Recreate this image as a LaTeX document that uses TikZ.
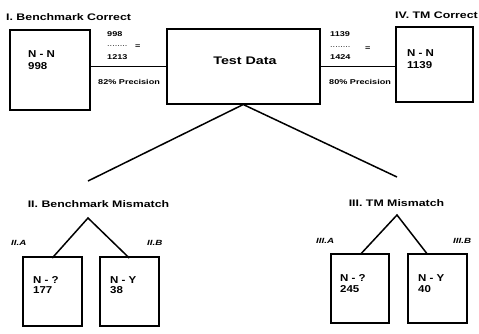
\documentclass[tikz,border=0pt]{standalone}
\usepackage{fontspec}
\usepackage{graphicx}
\setmainfont{Liberation Sans}
\newcommand\wider[1]{\scalebox{1.3}[1]{#1}}
\newcommand\widerb[1]{\scalebox{1.15}[1]{#1}}
\begin{document}
\begin{tikzpicture}[x=1pt,y=-1pt,
  box/.style={draw,line width=1.5pt,anchor=north west,inner sep=0pt},
  ln/.style={line width=1.5pt},
  ttl/.style={font=\bfseries\fontsize{9.5}{10}\selectfont,inner sep=0pt},
  inbox/.style={font=\bfseries\fontsize{10}{12}\selectfont,anchor=west,inner sep=0pt},
  tiny/.style={font=\bfseries\fontsize{7}{8}\selectfont,inner sep=0pt,anchor=west},
  sub/.style={font=\bfseries\itshape\fontsize{7.5}{8}\selectfont,inner sep=0pt,anchor=west}]
\useasboundingbox (0,0) rectangle (479,333);
% top row
\node[box,minimum width=80pt,minimum height=80pt] (b1) at (9,29) {};
\node[box,minimum width=153pt,minimum height=75pt] (td) at (166,28) {};
\node[box,minimum width=77pt,minimum height=75pt] (b4) at (395,26) {};
\node[font=\bfseries\fontsize{11}{12}\selectfont,inner sep=0pt] (tdt) at (245,61) {\wider{Test Data}};
\node[ttl,anchor=west] (t1) at (6,17) {\wider{I. Benchmark Correct}};
\node[ttl,anchor=west] (t4) at (395,15) {\wider{IV. TM Correct}};
\node[inbox] (x1) at (28,54) {\widerb{N - N}};
\node[inbox] (y1) at (28,66) {\widerb{998}};
\node[inbox] (x4) at (407,53) {\widerb{N - N}};
\node[inbox] (y4) at (407,65) {\widerb{1139}};
\draw[ln] (b1.east |- td.west) -- (td.west);
\draw[ln] (td.east) -- (td.east -| b4.west);
% fractions
\node[tiny] (n1) at (107,34.5) {\wider{998}};
\node[tiny,font=\fontsize{7}{8}\selectfont] (d1) at (107,46) {\wider{........}};
\node[tiny] (e1) at (135,47) {\wider{=}};
\node[tiny] (m1) at (107,57.5) {\wider{1213}};
\node[tiny] (p1) at (98,82) {\wider{82\% Precision}};
\node[tiny] (n4) at (330,34.5) {\wider{1139}};
\node[tiny,font=\fontsize{7}{8}\selectfont] (d4) at (330,47) {\wider{........}};
\node[tiny] (e4) at (365,49) {\wider{=}};
\node[tiny] (m4) at (330,57.5) {\wider{1424}};
\node[tiny] (p4) at (329,81.5) {\wider{80\% Precision}};
% branches
\coordinate (lt) at (88,181);
\coordinate (rt) at (397,177);
\draw[ln] (lt) -- (td.south) -- (rt);
% left subtree
\node[ttl] (t2) at (98.5,204) {\wider{II. Benchmark Mismatch}};
\coordinate (a2) at (88,218);
\node[box,minimum width=59pt,minimum height=69pt] (b2a) at (22,256) {};
\node[box,minimum width=59pt,minimum height=69pt] (b2b) at (99,256) {};
\draw[ln] ([yshift=-2pt]b2a.north) -- (a2) -- ([yshift=-2pt]b2b.north);
\node[sub] (s2a) at (11,243) {\wider{II.A}};
\node[sub] (s2b) at (147,243) {\wider{II.B}};
\node[inbox] (x2a) at (33,280) {\widerb{N - ?}};
\node[inbox] (y2a) at (33,290) {\widerb{177}};
\node[inbox] (x2b) at (110,280) {\widerb{N - Y}};
\node[inbox] (y2b) at (110,290) {\widerb{38}};
% right subtree
\node[ttl] (t3) at (396.5,203) {\wider{III. TM Mismatch}};
\coordinate (a3) at (397,215);
\node[box,minimum width=58pt,minimum height=69pt] (b3a) at (330,253) {};
\node[box,minimum width=59pt,minimum height=69pt] (b3b) at (407,253) {};
\draw[ln] ([xshift=1pt,yshift=-1pt]b3a.north) -- (a3) -- ([xshift=-10pt,yshift=-1pt]b3b.north);
\node[sub] (s3a) at (316,241) {\wider{III.A}};
\node[sub] (s3b) at (453,241) {\wider{III.B}};
\node[inbox] (x3a) at (340,278.5) {\widerb{N - ?}};
\node[inbox] (y3a) at (340,289) {\widerb{245}};
\node[inbox] (x3b) at (418,278.5) {\widerb{N - Y}};
\node[inbox] (y3b) at (418,289) {\widerb{40}};
\end{tikzpicture}
\end{document}
